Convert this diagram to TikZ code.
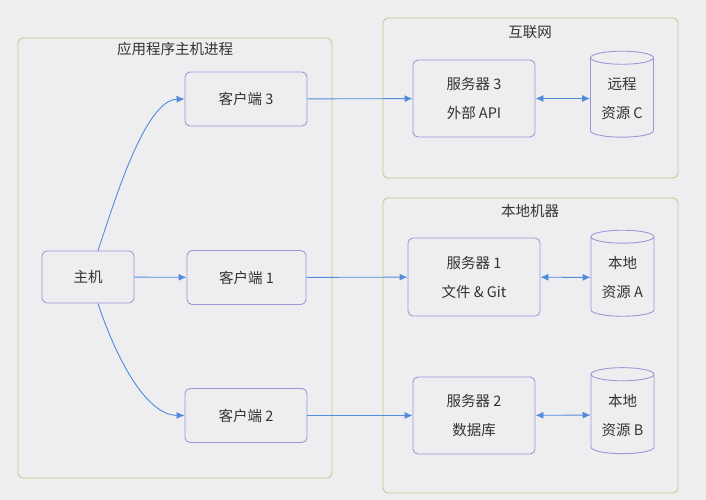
\documentclass[tikz,border=0pt]{standalone}
\usepackage{fontspec}
\setmainfont{Noto Sans CJK SC}
\usetikzlibrary{arrows.meta,shapes.geometric}
\definecolor{bgcol}{HTML}{EEEEF0}
\definecolor{boxcol}{HTML}{9C98D8}
\definecolor{grpcol}{HTML}{BCCC88}
\definecolor{arrcol}{HTML}{4F8CDC}
\definecolor{txtcol}{HTML}{333333}
\tikzset{
  proc/.style={draw=boxcol,line width=0.9pt,rounded corners=5pt,fill=bgcol,text=txtcol,font=\fontsize{14.5}{29}\selectfont,align=center,minimum height=#1},
  proc/.default=54pt,
  store/.style={draw=boxcol,line width=0.9pt,shape=cylinder,shape border rotate=90,aspect=0.3,fill=bgcol,text=txtcol,
    font=\fontsize{14.5}{29}\selectfont,align=center,minimum width=63pt,minimum height=86pt,inner sep=1pt},
  group/.style={draw=grpcol,line width=0.9pt,rounded corners=5pt},
  grptitle/.style={text=txtcol,font=\fontsize{14.5}{18}\selectfont},
  link/.style={draw=arrcol,line width=0.9pt,-{Latex[length=8pt,width=7pt]}},
  dlink/.style={draw=arrcol,line width=0.9pt,{Latex[length=8pt,width=7pt]}-{Latex[length=8pt,width=7pt]}}
}
\begin{document}
\begin{tikzpicture}[x=1pt,y=-1pt]
\fill[bgcol] (0,0) rectangle (706,500);
\useasboundingbox (0,0) rectangle (706,500);

% groups
\draw[group] (18,38) rectangle (332,478);
\node[grptitle] (tapp) at (175,49) {应用程序主机进程};
\draw[group] (383,18) rectangle (678,178);
\node[grptitle] (tnet) at (530,32) {互联网};
\draw[group] (383,198) rectangle (678,493);
\node[grptitle] (tloc) at (530,211) {本地机器};

% host and clients
\node[proc=52pt,minimum width=92pt] (host) at (88,277) {主机};
\node[proc,minimum width=122pt] (c3) at (246,99) {客户端 3};
\node[proc,minimum width=119pt] (c1) at (246.5,277.5) {客户端 1};
\node[proc,minimum width=122pt] (c2) at (246,415.5) {客户端 2};

% servers
\node[proc=77pt,minimum width=122pt] (s3) at (474,98.5) {服务器 3\\外部 API};
\node[proc=78pt,minimum width=132pt] (s1) at (474,277) {服务器 1\\文件 \& Git};
\node[proc=77pt,minimum width=122pt] (s2) at (474,415.5) {服务器 2\\数据库};

% resources
\node[store] (rc) at (622,98.5) {远程\\资源 C};
\node[store] (ra) at (622.5,277.5) {本地\\资源 A};
\node[store] (rb) at (622.5,415) {本地\\资源 B};

\draw[link] ([xshift=10pt]host.north) .. controls (115,200) and (145,100) .. (c3.west);
\draw[link] (host) -- (c1);
\draw[link] ([xshift=10pt]host.south) .. controls (115,355) and (145,415) .. (c2.west);

\draw[link] (c3) -- (s3);
\draw[link] (c1) -- (s1);
\draw[link] (c2) -- (s2);

\draw[dlink] (s3) -- (rc);
\draw[dlink] (s1) -- (ra);
\draw[dlink] (s2) -- (rb);
\end{tikzpicture}
\end{document}
